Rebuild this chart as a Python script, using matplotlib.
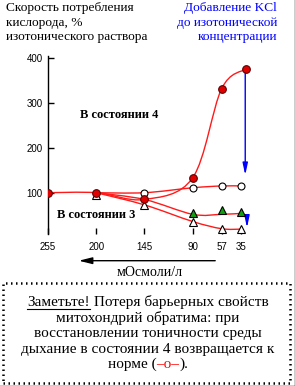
import matplotlib
matplotlib.use("Agg")
import matplotlib.pyplot as plt
import numpy as np
from matplotlib.path import Path
from matplotlib.patches import PathPatch, Rectangle
from matplotlib.offsetbox import TextArea, HPacker, AnnotationBbox
from matplotlib.lines import Line2D

# ---- data ----
x_ticks = [255, 200, 145, 90, 57, 35]
y_ticks = [100, 200, 300, 400]

# state 4, no KCl (red filled circles)
st4_x = [255, 200, 145, 90, 57, 29]
st4_y = [100, 100, 85, 133, 331, 375]

# state 4, KCl added (open circles)
st4k_x = [145, 90, 57, 35]
st4k_y = [100, 111, 115, 115]
st4k_line_x = [200, 145, 90, 57, 35]
st4k_line_y = [100, 100, 111, 115, 115]

# state 3, no KCl (open triangles)
st3_x = [200, 145, 90, 57, 35]
st3_y = [95, 73, 36, 19, 19]
st3_line_x = [200, 145, 90, 57, 35]
st3_line_y = [100, 73, 36, 20, 19]

# state 3, KCl added (green triangles)
st3k_x = [90, 57, 35]
st3k_y = [54, 62, 57]
st3k_line_x = [200, 145, 90, 57, 35]
st3k_line_y = [100, 85, 52, 52, 54]

# KCl arrows (x, from, to)
arrow_big = (30, 375, 133)
arrow_small = (28, 44, 16)

W, H = 295, 386
fig = plt.figure(figsize=(W / 100, H / 100), dpi=100)
fig.patch.set_facecolor("white")

def fp(x, y):
    # figure pixel (from top-left) -> figure fraction
    return (x / W, 1 - y / H)

serif = ["Liberation Serif", "DejaVu Serif"]
sans = ["Liberation Sans", "DejaVu Sans"]

ax = fig.add_axes([48 / W, 1 - 234.1 / H, (254 - 48) / W, (234.1 - 55.5) / H])
ax.set_xlim(255, 20)
ax.set_ylim(8, 405)
ax.patch.set_alpha(0)
for s in ["top", "right", "bottom"]:
    ax.spines[s].set_visible(False)
ax.spines["left"].set_linewidth(1)
ax.set_xticks(x_ticks)
ax.set_yticks(y_ticks)
ax.tick_params(axis="both", direction="in", length=4, width=1, labelsize=7)
ax.tick_params(axis="x", pad=6)
ax.tick_params(axis="y", pad=4)
for lab in ax.get_xticklabels() + ax.get_yticklabels():
    lab.set_fontfamily(sans)

red = "#ff1a1a"

def smooth(xs, ys, color, lw=1.0):
    # Catmull-Rom through the points, drawn as cubic bezier path
    p = np.column_stack([xs, ys]).astype(float)
    verts = [p[0]]
    codes = [Path.MOVETO]
    for i in range(len(p) - 1):
        p0 = p[i - 1] if i > 0 else p[i]
        p3 = p[i + 2] if i + 2 < len(p) else p[i + 1]
        c1 = p[i] + (p[i + 1] - p0) / 6
        c2 = p[i + 1] - (p3 - p[i]) / 6
        verts += [c1, c2, p[i + 1]]
        codes += [Path.CURVE4] * 3
    ax.add_patch(PathPatch(Path(verts, codes), fill=False, edgecolor=color, lw=lw, zorder=2))

smooth(st4_x, st4_y, red)
smooth(st4k_line_x, st4k_line_y, red)
smooth(st3_line_x, st3_line_y, red)
smooth(st3k_line_x, st3k_line_y, red)

ax.plot(st4k_x, st4k_y, ls="none", marker="o", ms=5, mfc="white", mec="black", mew=0.8, zorder=4)
ax.plot(st3_x, st3_y, ls="none", marker="^", ms=5.5, mfc="white", mec="black", mew=0.8, zorder=4)
ax.plot(st3k_x, st3k_y, ls="none", marker="^", ms=6, mfc="#11a011", mec="black", mew=0.8, zorder=4)
ax.plot(st4_x, st4_y, ls="none", marker="o", ms=5.5, mfc="#e00000", mec="#600000", mew=0.8, zorder=5)

for xa, y0, y1 in [arrow_big, arrow_small]:
    ax.annotate("", xy=(xa, y1), xytext=(xa, y0),
                arrowprops=dict(arrowstyle="-|>,head_length=0.7,head_width=0.15",
                                color="#0000ff", lw=1), zorder=3)

fig.text(*fp(80, 115), "В состоянии 4", fontsize=9, fontweight="bold", family=serif, va="center")
fig.text(*fp(57, 215), "В состоянии 3", fontsize=9, fontweight="bold", family=serif, va="center")

# top texts
for i, t in enumerate(["Скорость потребления", "кислорода, %", "изотонического раствора"]):
    fig.text(*fp(6, 8 + 14.7 * i), t, fontsize=9.6, family=serif, va="center", ha="left")
for i, t in enumerate(["Добавление KCl", "до изотонической", "концентрации"]):
    fig.text(*fp(277, 8 + 14.7 * i), t, fontsize=9.6, family=serif, va="center", ha="right",
             color="#0000ff")

# direction arrow and x label
ax.annotate("", xy=fp(76, 260.7), xytext=fp(218, 260.7), xycoords="figure fraction",
            textcoords="figure fraction",
            arrowprops=dict(arrowstyle="-|>,head_length=0.8,head_width=0.2", color="black", lw=1))
fig.text(*fp(150, 272), "мОсмоли/л", fontsize=10, family=serif, ha="center", va="center")

# note box
fig.add_artist(Rectangle(fp(3, 383), 287 / W, 100 / H, transform=fig.transFigure,
                         fill=False, edgecolor="black", lw=1.8, linestyle=(0, (0.6, 1.4))))

fs = 11
t_note = TextArea("Заметьте!", textprops=dict(fontsize=fs, family=serif))
t_rest = TextArea(" Потеря барьерных свойств", textprops=dict(fontsize=fs, family=serif))
line1 = HPacker(children=[t_note, t_rest], pad=0, sep=0, align="baseline")
fig.add_artist(AnnotationBbox(line1, fp(148, 302), xycoords="figure fraction", frameon=False,
                              box_alignment=(0.5, 0.5)))
mid = ["митохондрий обратима: при", "восстановлении тоничности среды",
       "дыхание в состоянии 4 возвращается к"]
for i, t in enumerate(mid):
    fig.text(*fp(148, 318 + 15.5 * i), t, fontsize=fs, family=serif, ha="center", va="center")
parts = [TextArea("норме (", textprops=dict(fontsize=fs, family=serif)),
         TextArea("–o–", textprops=dict(fontsize=fs, family=serif, color="#ff0000")),
         TextArea(").", textprops=dict(fontsize=fs, family=serif))]
line5 = HPacker(children=parts, pad=0, sep=0, align="baseline")
fig.add_artist(AnnotationBbox(line5, fp(148, 364.5), xycoords="figure fraction", frameon=False,
                              box_alignment=(0.5, 0.5)))

# underline "Заметьте!"
fig.canvas.draw()
bb = t_note.get_window_extent(fig.canvas.get_renderer())
fig.add_artist(Line2D([bb.x0 / W, bb.x1 / W], [fp(0, 308.5)[1]] * 2, transform=fig.transFigure,
                      color="black", lw=0.8))

# right/bottom edge frame
fig.add_artist(Line2D([1 - 0.5 / W, 1 - 0.5 / W], [0, 1], transform=fig.transFigure, color="black", lw=1))
fig.add_artist(Line2D([0, 1], [0.5 / H, 0.5 / H], transform=fig.transFigure, color="black", lw=1))

fig.savefig("out.png", dpi=100)
